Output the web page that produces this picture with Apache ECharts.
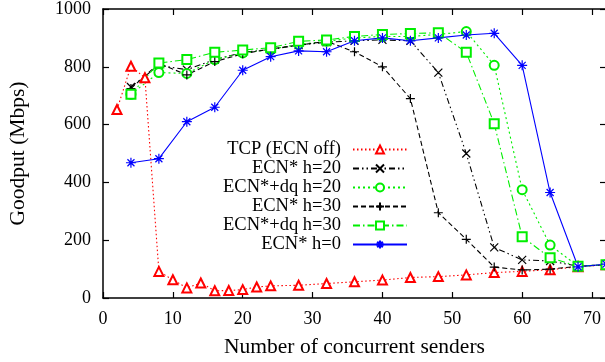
<!DOCTYPE html>
<html>
<head>
<meta charset="utf-8">
<script src="https://cdn.jsdelivr.net/npm/echarts@6/dist/echarts.min.js"></script>
<style>
  html, body { margin: 0; padding: 0; background: #fff; }
  #chart { width: 605px; height: 362px; }
</style>
</head>
<body>
<div id="chart"></div>
<script>
// senders (x) for each curve
const tcpSenders = [2, 4, 6, 8, 10, 12, 14, 16, 18, 20, 22, 24, 28, 32, 36, 40, 44, 48, 52, 56, 60, 64, 68, 72]
const senders = [4, 8, 12, 16, 20, 24, 28, 32, 36, 40, 44, 48, 52, 56, 60, 64, 68, 72]

// goodput (Mbps)
const tcpEcnOff = [652, 802, 762, 92, 63, 35, 52, 25, 26, 29, 38, 42, 44, 50, 56, 62, 71, 74, 80, 88, 92, 98, 108, 115]
const ecnH20 = [730, 805, 790, 825, 850, 860, 875, 885, 890, 893, 890, 780, 500, 175, 132, 128, 110, 115]
const dqH20 = [705, 780, 777, 825, 848, 860, 878, 888, 900, 905, 905, 912, 922, 805, 375, 183, 110, 115]
const ecnH30 = [725, 812, 772, 818, 845, 862, 875, 888, 852, 800, 690, 295, 203, 107, 97, 100, 110, 115]
const dqH30 = [705, 813, 825, 850, 858, 866, 888, 893, 905, 912, 915, 918, 850, 603, 212, 139, 110, 115]
const ecnH0 = [468, 482, 610, 660, 788, 835, 855, 852, 890, 900, 890, 900, 910, 916, 805, 365, 108, 117]

const seriesNames = ['TCP (ECN off)', 'ECN* h=20', 'ECN*+dq h=20', 'ECN* h=30', 'ECN*+dq h=30', 'ECN* h=0']
const xTicks = [0, 10, 20, 30, 40, 50, 60, 70]
const yTicks = [0, 200, 400, 600, 800, 1000]

const FONT = 'Liberation Serif'
const GREEN = '#00ee00'

const PLUS = 'path://M5,0L5,10M0,5L10,5'
const CROSS = 'path://M0,0L10,10M10,0L0,10'
const STAR = 'path://M5,0L5,10M0,5L10,5M1.5,1.5L8.5,8.5M8.5,1.5L1.5,8.5'

function pairs(xs, ys) {
  return xs.map((x, i) => [x, ys[i]])
}

function makeSeries(name, xs, ys, color, dash, symbol, size, strokeSym) {
  return {
    name,
    type: 'line',
    data: pairs(xs, ys),
    symbol,
    symbolSize: size,
    symbolKeepAspect: true,
    showAllSymbol: true,
    lineStyle: { color, width: 1.1, type: dash },
    itemStyle: strokeSym
      ? { color, borderColor: color, borderWidth: 1.2 }
      : { color, borderWidth: 1.2 },
    emphasis: { disabled: true }
  }
}

const chart = echarts.init(document.getElementById('chart'))

const axisLine = { show: true, onZero: false, lineStyle: { color: '#000', width: 1.5 } }
const tick = { show: true, inside: true, length: 6, lineStyle: { color: '#000', width: 1.2 } }

const option = {
  animation: false,
  backgroundColor: '#fff',
  grid: { left: 103, right: -1, top: 9, bottom: 64, containLabel: false, outerBoundsMode: 'none' },
  legend: {
    orient: 'vertical',
    align: 'right',
    right: 192,
    top: 135,
    itemWidth: 54,
    itemHeight: 10,
    itemGap: 0,
    data: seriesNames,
    textStyle: { fontFamily: FONT, fontSize: 18.5, color: '#000', lineHeight: 16, padding: [0, 7, 0, 0] }
  },
  xAxis: [
    {
      type: 'value', min: 0, max: 72, interval: 10,
      axisLine, axisTick: tick, splitLine: { show: false },
      axisLabel: {
        fontFamily: FONT, fontSize: 18, color: '#000', margin: 12,
        formatter: v => (xTicks.includes(v) ? String(v) : '')
      },
      name: 'Number of concurrent senders',
      nameLocation: 'middle', nameGap: 38,
      nameTextStyle: { fontFamily: FONT, fontSize: 21.5, color: '#000' }
    },
    {
      type: 'value', position: 'top', min: 0, max: 72, interval: 10,
      axisLine, axisTick: tick, axisLabel: { show: false }, splitLine: { show: false }
    }
  ],
  yAxis: [
    {
      type: 'value', min: 0, max: 1000, interval: 200,
      axisLine, axisTick: tick, splitLine: { show: false },
      axisLabel: {
        fontFamily: FONT, fontSize: 18, color: '#000', margin: 12,
        formatter: v => (yTicks.includes(v) ? String(v) : '')
      },
      name: 'Goodput (Mbps)',
      nameLocation: 'middle', nameGap: 74,
      nameTextStyle: { fontFamily: FONT, fontSize: 21.5, color: '#000' }
    },
    {
      type: 'value', position: 'right', min: 0, max: 1000, interval: 200,
      axisLine, axisTick: tick, axisLabel: { show: false }, splitLine: { show: false }
    }
  ],
  series: [
    makeSeries(seriesNames[0], tcpSenders, tcpEcnOff, '#ff0000', [1.5, 2.5], 'emptyTriangle', 9, false),
    makeSeries(seriesNames[1], senders, ecnH20, '#000', [6, 3, 1.5, 3, 1.5, 3], CROSS, 8, true),
    makeSeries(seriesNames[2], senders, dqH20, GREEN, [2, 3], 'emptyCircle', 9, false),
    makeSeries(seriesNames[3], senders, ecnH30, '#000', [5, 3], PLUS, 9, true),
    makeSeries(seriesNames[4], senders, dqH30, GREEN, [7, 3, 1.5, 3], 'emptyRect', 9, false),
    makeSeries(seriesNames[5], senders, ecnH0, '#0000ff', 'solid', STAR, 10, true)
  ]
}

chart.setOption(option)
</script>
</body>
</html>
